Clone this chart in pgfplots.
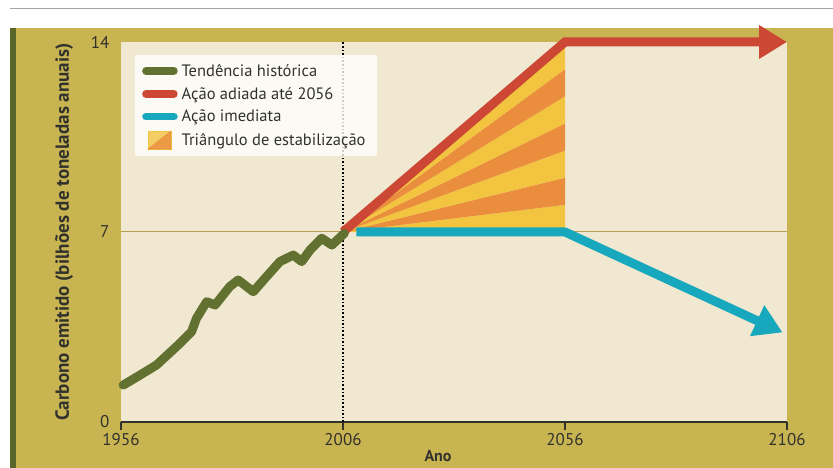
\documentclass[border=0pt]{standalone}
\usepackage{pgfplots}
\pgfplotsset{compat=1.18}
\usepackage{fontspec}
\setmainfont{PT Sans}
\usetikzlibrary{arrows.meta}
\definecolor{mustard}{RGB}{201,180,82}
\definecolor{stripe}{RGB}{88,102,40}
\definecolor{cream}{RGB}{240,232,208}
\definecolor{histgreen}{RGB}{98,112,48}
\definecolor{delred}{RGB}{204,72,52}
\definecolor{nowcyan}{RGB}{24,168,190}
\definecolor{wyellow}{RGB}{242,196,64}
\definecolor{worange}{RGB}{234,142,62}
\definecolor{txt}{RGB}{50,50,45}
\definecolor{sevenline}{RGB}{184,160,80}
\begin{document}
\begin{tikzpicture}[x=1pt,y=1pt]
\path[use as bounding box] (0,0) rectangle (833,468);
\fill[white] (0,0) rectangle (833,468);
\draw[gray!70, line width=0.8pt] (10,460) -- (833,460);
\fill[mustard] (10,0) rectangle (833,440);
\fill[stripe] (10,0) rectangle (16,440);
\begin{axis}[
  at={(121pt,46pt)}, anchor=south west,
  scale only axis, width=666pt, height=380pt,
  xmin=1956, xmax=2106, ymin=0, ymax=14,
  clip=false,
  axis background/.style={fill=cream},
  axis x line*=bottom, axis y line*=left,
  y axis line style={draw=none},
  x axis line style={draw=txt, line width=1.3pt},
  xtick={1956,2006,2056,2106}, xticklabels={1956,2006,2056,2106},
  ytick={0,7,14}, yticklabels={0,7,14},
  tick align=outside, major tick length=8pt,
  xtick style={draw=txt, line width=1.3pt},
  ytick style={draw=none},
  tick label style={font=\fontsize{17}{20}\selectfont, text=txt},
  legend style={at={(0.021,0.966)}, anchor=north west, fill=white, fill opacity=0.8, text opacity=1, draw=none,
    font=\fontsize{16.5}{19}\selectfont, text=txt, row sep=5.5pt, inner xsep=7pt, inner ysep=7pt,
    nodes={inner xsep=4pt}},
  legend cell align=left,
]
\addlegendimage{histgreen, line width=7.5pt, line cap=round, legend image code/.code={\draw (0pt,0pt) -- (28pt,0pt);}}
\addlegendentry{Tendência histórica}
\addlegendimage{delred, line width=7.5pt, line cap=round, legend image code/.code={\draw (0pt,0pt) -- (28pt,0pt);}}
\addlegendentry{Ação adiada até 2056}
\addlegendimage{nowcyan, line width=7.5pt, line cap=round, legend image code/.code={\draw (0pt,0pt) -- (28pt,0pt);}}
\addlegendentry{Ação imediata}
\addlegendimage{legend image code/.code={\fill[wyellow] (2pt,-9pt) rectangle (25pt,9pt); \fill[worange] (25pt,-9pt) -- (25pt,9pt) -- (2pt,-9pt) -- cycle;}}
\addlegendentry{Triângulo de estabilização}

\addplot[draw=sevenline, line width=1pt, forget plot] coordinates {(1956,7) (2106,7)};
\addplot[black, dotted, line width=1.6pt, forget plot] coordinates {(2006,0) (2006,14)};

\addplot[fill=wyellow, draw=none, forget plot] coordinates {(2006,7) (2056,7) (2056,8)} -- cycle;
\addplot[fill=worange, draw=none, forget plot] coordinates {(2006,7) (2056,8) (2056,9)} -- cycle;
\addplot[fill=wyellow, draw=none, forget plot] coordinates {(2006,7) (2056,9) (2056,10)} -- cycle;
\addplot[fill=worange, draw=none, forget plot] coordinates {(2006,7) (2056,10) (2056,11)} -- cycle;
\addplot[fill=wyellow, draw=none, forget plot] coordinates {(2006,7) (2056,11) (2056,12)} -- cycle;
\addplot[fill=worange, draw=none, forget plot] coordinates {(2006,7) (2056,12) (2056,13)} -- cycle;
\addplot[fill=wyellow, draw=none, forget plot] coordinates {(2006,7) (2056,13) (2056,14)} -- cycle;

\addplot[nowcyan, line width=9pt, line join=round, -{Triangle[length=28pt,width=32pt]}, forget plot]
  coordinates {(2009,7) (2056,7) (2105,3.3)};
\addplot[delred, line width=9pt, line join=miter, -{Triangle[length=28pt,width=32pt]}, forget plot]
  coordinates {(2006,7) (2056,14) (2106,14)};
\addplot[histgreen, line width=9pt, line join=round, line cap=round, forget plot] coordinates {
(1956.5,1.36) (1960,1.7) (1964.0,2.1) (1969.3,2.9) (1971.9,3.33) (1973,3.82) (1975.3,4.43) (1977.2,4.31)
(1980.5,4.99) (1982.4,5.23) (1985.8,4.80) (1988.8,5.36) (1991.8,5.91) (1994.8,6.15) (1996.7,5.91)
(1998.6,6.34) (2001.2,6.77) (2003.5,6.52) (2006.3,6.95)};
\end{axis}
\node[rotate=90, font=\bfseries\fontsize{19}{22}\selectfont, text=txt] at (64,236) {Carbono emitido (bilhões de toneladas anuais)};
\node[font=\bfseries\fontsize{16}{18}\selectfont, text=txt] at (438,12) {Ano};
\end{tikzpicture}
\end{document}
